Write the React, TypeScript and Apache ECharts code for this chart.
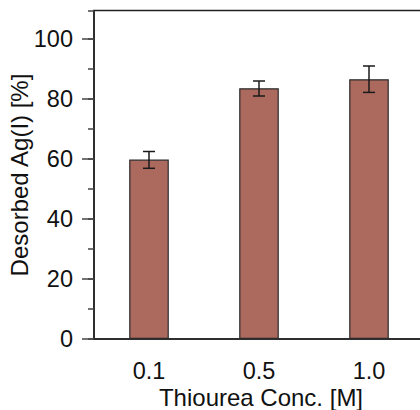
import React, { useEffect, useRef } from "react";
import * as echarts from "echarts";

const categories = ["0.1", "0.5", "1.0"];
const values = [59.8, 83.6, 86.6];
const errLow = [56.9, 81.0, 82.2];
const errHigh = [62.5, 86.0, 91.0];
const majorTicks = [0, 20, 40, 60, 80, 100];
const xTitle = "Thiourea Conc. [M]";
const yTitle = "Desorbed Ag(I) [%]";

export default function App() {
  const ref = useRef<HTMLDivElement>(null);
  useEffect(() => {
    if (!ref.current) return;
    const chart = echarts.init(ref.current, undefined, { renderer: "svg" });
    const font = "Liberation Sans, Arial, sans-serif";
    const axisColor = "#222";
    chart.setOption({
      animation: false,
      grid: {
        left: 94,
        top: 10.5,
        width: 330,
        height: 328.5,
        show: true,
        borderColor: axisColor,
        borderWidth: 1.5,
        containLabel: false,
        outerBoundsMode: "none",
      },
      graphic: [
        {
          type: "text",
          x: 19,
          y: 175,
          rotation: Math.PI / 2,
          style: {
            text: yTitle,
            fontFamily: font,
            fontSize: 24,
            fill: "#111",
            align: "center",
            verticalAlign: "middle",
          },
        },
        {
          type: "text",
          x: 261,
          y: 397,
          style: {
            text: xTitle,
            fontFamily: font,
            fontSize: 24,
            fill: "#111",
            align: "center",
            verticalAlign: "middle",
          },
        },
      ],
      xAxis: {
        type: "category",
        data: categories,
        axisLine: { lineStyle: { color: axisColor, width: 1.5 } },
        axisTick: { alignWithLabel: true, length: 11, lineStyle: { color: "#444", width: 1.5 } },
        axisLabel: { fontFamily: font, fontSize: 23.5, color: "#111", margin: 20 },
      },
      yAxis: [
        {
          type: "value",
          min: 0,
          max: 109.5,
          interval: 20,
          axisLine: { show: true, lineStyle: { color: axisColor, width: 1.5 } },
          axisTick: { show: true, length: 12, customValues: majorTicks, lineStyle: { color: "#444", width: 1.5 } },
          axisLabel: { fontFamily: font, fontSize: 23.5, color: "#111", margin: 21, customValues: majorTicks },
          splitLine: { show: false },
        },
        {
          type: "value",
          min: 0,
          max: 109.5,
          interval: 10,
          position: "left",
          offset: 0,
          axisLine: { show: false },
          axisTick: { show: true, length: 6, lineStyle: { color: "#444", width: 1.5 } },
          axisLabel: { show: false },
          splitLine: { show: false },
        },
      ],
      series: [
        {
          type: "bar",
          data: values,
          barWidth: "36%",
          itemStyle: { color: "#AC6A5E", borderColor: "#2a2a2a", borderWidth: 1.2 },
          z: 2,
        },
        {
          type: "custom",
          data: categories.map((_, i) => [i, errLow[i], errHigh[i]]),
          z: 3,
          renderItem: (params: any, api: any) => {
            const x = api.value(0);
            const lo = api.coord([x, api.value(1)]);
            const hi = api.coord([x, api.value(2)]);
            const hw = 6;
            const style = { stroke: "#1a1a1a", lineWidth: 1.5 };
            return {
              type: "group",
              children: [
                { type: "line", shape: { x1: lo[0], y1: lo[1], x2: hi[0], y2: hi[1] }, style },
                { type: "line", shape: { x1: lo[0] - hw, y1: lo[1], x2: lo[0] + hw, y2: lo[1] }, style },
                { type: "line", shape: { x1: hi[0] - hw, y1: hi[1], x2: hi[0] + hw, y2: hi[1] }, style },
              ],
            };
          },
        },
      ],
    });
    return () => chart.dispose();
  }, []);
  return <div ref={ref} style={{ position: "absolute", left: 0, top: 0, width: 420, height: 410 }} />;
}
